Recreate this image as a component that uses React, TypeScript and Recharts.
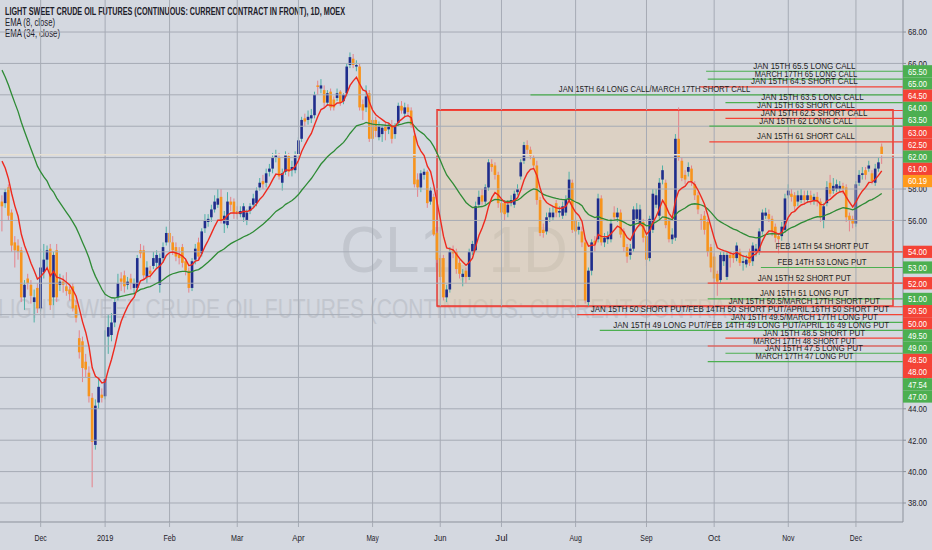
import React from 'react';
import { ComposedChart, Bar, Line, XAxis, YAxis, ReferenceLine, ReferenceArea, Scatter } from 'recharts';

type Ohlc = [number, number, number, number]; // open, high, low, close

// daily candles, one array per month
const nov18: Ohlc[] = [
  [57.2, 57.6, 55.3, 56.9], [57.1, 58.0, 56.8, 57.8], [58.1, 58.3, 56.0, 56.3], [56.5, 56.7, 54.0, 54.4],
  [54.6, 55.0, 53.0, 54.1], [54.4, 54.8, 53.5, 54.0], [54.1, 54.3, 50.8, 51.1], [51.1, 52.2, 50.3, 51.9],
  [52.3, 52.6, 51.6, 52.0], [51.9, 52.2, 50.7, 51.2], [50.8, 51.6, 49.5, 51.1], [51.7, 52.0, 50.1, 50.4],
];
const dec18: Ohlc[] = [
  [50.4, 54.2, 50.2, 53.0], [52.7, 54.5, 52.3, 53.5], [53.5, 54.4, 53.0, 54.1], [54.2, 54.5, 50.3, 50.6],
  [51.1, 54.0, 50.6, 53.8], [54.1, 54.5, 50.8, 51.1], [51.9, 52.6, 51.5, 52.1], [52.1, 52.5, 51.4, 51.9],
  [51.8, 52.7, 51.2, 51.5], [51.6, 51.8, 50.9, 51.3], [51.8, 52.0, 50.2, 50.4], [50.6, 50.9, 49.5, 49.8],
  [48.5, 49.0, 47.2, 47.6], [48.3, 48.6, 45.7, 46.6], [47.0, 47.5, 46.0, 46.5], [46.3, 46.7, 44.4, 44.8],
  [44.7, 45.0, 39.0, 41.9], [41.7, 44.6, 41.4, 44.2], [44.4, 46.0, 44.0, 45.4], [44.9, 45.3, 44.4, 44.7],
];
const jan19: Ohlc[] = [
  [44.8, 49.0, 44.6, 45.9], [48.6, 50.0, 47.5, 49.2], [48.7, 50.1, 48.3, 49.5], [49.5, 51.0, 49.2, 50.8],
  [51.1, 52.6, 50.9, 52.0], [52.3, 52.7, 51.5, 52.1], [52.5, 52.8, 51.4, 51.8], [51.9, 52.4, 51.6, 52.1],
  [52.3, 52.6, 51.6, 52.0], [51.7, 52.3, 51.3, 52.0], [51.7, 53.8, 51.5, 53.6], [54.1, 54.5, 53.6, 53.9],
  [54.1, 54.4, 52.2, 52.5], [52.4, 53.4, 52.0, 53.0], [52.8, 53.1, 52.3, 52.6], [53.1, 54.0, 52.9, 53.6],
  [53.3, 54.1, 53.0, 53.8], [51.9, 53.9, 51.4, 53.6], [53.6, 54.6, 53.3, 54.3], [54.6, 55.6, 54.4, 55.2],
];
const feb19: Ohlc[] = [
  [55.2, 55.9, 54.3, 54.6], [54.6, 55.0, 53.8, 54.1], [54.3, 54.6, 53.4, 53.7], [53.8, 54.3, 53.2, 53.6],
  [54.3, 54.5, 53.0, 53.3], [53.4, 53.6, 52.5, 52.8], [52.8, 53.0, 51.4, 51.7], [51.7, 53.6, 51.5, 53.4],
  [53.5, 54.5, 53.2, 54.2], [54.6, 54.9, 53.5, 53.7], [53.9, 55.5, 53.7, 55.3], [55.5, 56.4, 55.2, 56.0],
  [55.9, 56.4, 55.6, 56.1], [56.2, 57.0, 55.9, 56.7], [56.7, 57.6, 56.5, 57.2], [57.0, 58.0, 56.8, 57.4],
  [57.5, 58.0, 55.8, 56.0], [55.8, 56.6, 55.2, 56.3], [55.7, 57.8, 55.5, 57.2], [57.2, 57.5, 56.6, 57.0],
  [57.2, 57.4, 56.1, 56.5],
];
const mar19: Ohlc[] = [
  [56.6, 56.9, 56.1, 56.4], [56.4, 56.9, 56.2, 56.6], [56.2, 57.1, 55.9, 56.9], [56.0, 56.7, 55.7, 56.5],
  [56.6, 57.1, 56.4, 56.9], [57.0, 57.7, 56.8, 57.4], [57.1, 58.1, 56.9, 57.9], [58.1, 58.7, 57.9, 58.4],
  [58.5, 58.9, 58.0, 58.3], [58.4, 59.3, 58.1, 59.0], [59.1, 59.6, 58.8, 59.3], [59.3, 60.3, 59.0, 60.0],
  [60.0, 60.5, 59.7, 60.2], [60.0, 60.3, 58.6, 58.8], [58.4, 59.3, 57.9, 59.0], [59.1, 60.4, 58.9, 60.2],
  [60.1, 60.3, 58.8, 59.1], [59.2, 59.8, 58.8, 59.4], [59.2, 60.4, 59.0, 60.2],
];
const apr19: Ohlc[] = [
  [60.2, 61.3, 60.0, 61.1], [61.2, 62.6, 61.0, 62.4], [62.5, 62.8, 62.0, 62.3], [62.4, 63.0, 62.1, 62.6],
  [62.5, 63.1, 62.2, 62.7], [62.7, 64.2, 62.5, 64.0], [64.6, 64.9, 64.0, 64.5], [64.4, 65.0, 64.1, 64.6],
  [64.3, 64.6, 63.2, 63.5], [63.5, 64.3, 63.3, 64.1], [64.2, 64.4, 63.0, 63.2], [63.7, 63.9, 63.0, 63.2],
  [63.8, 64.4, 63.6, 64.1], [64.2, 64.3, 63.3, 63.5], [63.6, 64.1, 63.4, 64.0], [64.1, 66.0, 63.9, 65.8],
  [65.9, 66.7, 65.7, 66.4], [66.3, 66.6, 65.7, 65.9], [65.8, 66.2, 65.5, 65.9], [65.8, 66.0, 63.0, 63.2],
  [63.4, 63.7, 62.4, 63.0], [63.2, 64.6, 62.9, 63.9], [64.1, 64.3, 61.0, 61.2],
];
const may19: Ohlc[] = [
  [62.4, 62.6, 60.4, 61.2], [62.4, 62.6, 61.3, 61.7], [61.3, 62.3, 61.1, 62.0], [61.5, 62.1, 61.0, 61.9],
  [62.0, 62.2, 61.1, 61.7], [61.8, 62.2, 61.5, 62.0], [62.0, 62.4, 60.9, 61.2], [61.5, 62.2, 61.2, 62.0],
  [62.2, 63.5, 62.0, 63.3], [63.3, 63.6, 62.8, 63.0], [62.8, 63.5, 62.6, 63.2], [63.2, 63.4, 62.6, 62.9],
  [63.0, 63.2, 61.9, 62.1], [61.4, 61.7, 58.1, 58.3], [58.6, 59.0, 57.5, 58.1], [58.1, 59.2, 57.8, 59.0],
  [58.9, 59.3, 58.6, 59.1], [59.1, 59.2, 56.8, 57.1], [57.2, 58.1, 57.0, 57.9], [57.5, 57.7, 55.0, 55.1],
  [55.2, 55.3, 53.3, 53.5],
];
const jun19: Ohlc[] = [
  [53.6, 53.8, 52.2, 52.4], [53.6, 53.8, 50.9, 51.1], [51.1, 51.9, 50.8, 51.6], [51.6, 54.3, 51.4, 54.0],
  [54.1, 54.4, 53.6, 53.9], [54.0, 54.2, 52.6, 52.9], [53.3, 53.5, 52.3, 52.6], [52.4, 52.9, 51.8, 52.6],
  [52.8, 53.0, 52.0, 52.4], [52.4, 54.2, 52.2, 54.0], [54.0, 54.7, 53.8, 54.5], [54.1, 57.2, 54.0, 56.9],
  [57.0, 57.9, 56.8, 57.5], [57.6, 58.0, 57.0, 57.2], [57.2, 58.3, 57.0, 58.1], [58.1, 59.9, 57.9, 59.7],
  [59.6, 59.9, 59.1, 59.4], [59.5, 59.7, 58.6, 58.9], [58.9, 59.1, 56.8, 57.1],
];
const jul19: Ohlc[] = [
  [57.1, 57.3, 56.2, 56.5], [57.1, 57.3, 56.0, 56.4], [56.5, 57.3, 56.2, 57.0], [57.1, 57.6, 56.9, 57.3],
  [57.0, 57.9, 56.8, 57.7], [57.8, 58.3, 57.6, 58.0], [58.8, 59.9, 58.6, 59.7], [59.8, 61.0, 59.6, 60.8],
  [60.8, 61.1, 60.2, 60.5], [60.5, 60.7, 59.9, 60.1], [60.0, 60.2, 59.3, 59.5], [59.5, 59.8, 57.0, 57.3],
  [57.3, 57.5, 55.0, 55.2], [55.4, 55.8, 54.9, 55.2], [55.3, 56.5, 55.1, 56.2], [56.2, 56.8, 55.9, 56.5],
  [56.2, 56.9, 56.0, 56.5], [57.1, 57.3, 56.2, 56.5], [56.5, 56.9, 56.2, 56.6], [56.3, 57.2, 56.1, 56.9],
  [56.5, 57.6, 56.3, 57.3], [57.3, 59.1, 57.1, 58.6], [58.4, 58.6, 55.2, 55.4],
];
const aug19: Ohlc[] = [
  [56.0, 56.2, 55.0, 55.3], [55.4, 55.9, 55.1, 55.6], [55.3, 55.6, 54.3, 54.6], [54.6, 54.9, 50.7, 50.9],
  [50.8, 53.0, 50.5, 52.8], [52.8, 54.8, 52.5, 54.6], [54.7, 55.0, 54.0, 54.5], [54.8, 57.7, 54.6, 57.4],
  [57.4, 57.6, 54.4, 54.6], [54.6, 55.2, 54.3, 54.9], [54.8, 55.3, 54.5, 55.0], [54.8, 56.1, 54.6, 55.8],
  [56.5, 56.9, 56.0, 56.2], [56.2, 56.8, 55.9, 56.5], [56.5, 56.7, 54.9, 55.1], [55.3, 55.5, 54.0, 54.3],
  [54.3, 54.5, 53.3, 53.7], [53.8, 54.5, 53.5, 54.2], [54.2, 56.9, 54.0, 56.7], [56.1, 57.1, 55.9, 56.7],
  [55.8, 57.0, 55.6, 56.7], [55.9, 56.1, 54.6, 54.9],
];
const sep19: Ohlc[] = [
  [55.0, 55.2, 53.1, 53.5], [53.6, 56.3, 53.4, 56.1], [55.4, 58.0, 55.2, 57.7], [57.0, 58.0, 56.8, 57.6],
  [56.3, 58.7, 56.1, 58.4], [58.6, 59.5, 58.3, 59.2], [58.4, 58.6, 55.5, 55.7], [56.0, 56.2, 54.6, 54.8],
  [54.8, 55.5, 54.5, 55.1], [54.9, 61.5, 54.7, 61.2], [61.2, 63.2, 59.8, 60.0], [59.8, 60.0, 58.5, 58.7],
  [58.9, 59.2, 58.3, 58.6], [59.1, 59.7, 58.8, 59.4], [59.3, 59.5, 58.2, 58.5], [58.3, 58.5, 57.3, 57.6],
  [57.6, 57.8, 56.4, 56.7], [56.1, 56.4, 55.4, 56.0], [56.3, 56.6, 55.1, 55.4], [55.9, 56.1, 53.7, 54.0],
  [54.3, 54.5, 52.7, 53.0],
];
const oct19: Ohlc[] = [
  [53.7, 53.9, 52.0, 52.3], [52.6, 52.8, 51.2, 52.1], [52.2, 54.0, 52.0, 53.8], [53.4, 54.0, 53.1, 53.8],
  [52.4, 54.0, 52.2, 53.8], [53.8, 54.0, 53.0, 53.6], [53.8, 54.0, 53.3, 53.6], [53.6, 54.6, 53.4, 54.4],
  [54.0, 54.2, 53.1, 53.3], [53.3, 53.8, 52.8, 53.4], [53.2, 53.8, 53.0, 53.5], [54.0, 54.2, 53.1, 53.3],
  [53.4, 54.6, 53.1, 54.4], [54.0, 54.5, 53.7, 54.2], [54.0, 55.5, 53.8, 55.3], [55.3, 56.7, 55.1, 56.5],
  [56.3, 56.8, 56.1, 56.5], [56.4, 56.7, 55.9, 56.1], [56.1, 56.3, 55.0, 55.3], [55.6, 55.8, 54.6, 54.9],
  [55.0, 55.2, 53.9, 54.8], [55.0, 55.9, 54.7, 55.6], [55.4, 57.7, 55.2, 57.4],
];
const nov19: Ohlc[] = [
  [57.6, 58.3, 57.4, 57.9], [57.7, 58.0, 57.2, 57.5], [57.6, 57.8, 56.6, 56.9], [57.2, 57.9, 56.9, 57.6],
  [57.3, 58.0, 57.1, 57.6], [57.6, 57.9, 57.0, 57.3], [57.3, 57.9, 57.1, 57.6], [57.6, 57.9, 57.0, 57.3],
  [57.3, 57.7, 57.0, 57.5], [57.5, 57.8, 56.9, 57.2], [57.2, 57.4, 55.9, 56.2], [56.0, 57.1, 55.5, 56.9],
  [57.1, 58.5, 56.9, 58.1], [58.4, 58.9, 57.5, 57.7], [57.9, 58.7, 57.7, 58.2], [58.0, 58.6, 57.8, 58.3],
  [58.0, 58.5, 57.8, 58.2], [58.2, 58.4, 57.7, 58.0], [58.1, 58.3, 55.9, 56.2], [56.3, 56.5, 55.3, 56.0],
  [56.1, 56.3, 55.5, 55.8],
];
const dec19: Ohlc[] = [
  [55.8, 58.5, 55.6, 58.3], [58.4, 59.2, 58.2, 58.9], [58.9, 59.4, 58.6, 59.0], [59.2, 59.4, 58.6, 58.9],
  [59.3, 59.8, 59.1, 59.5], [59.0, 59.2, 58.3, 58.5], [58.4, 59.6, 58.2, 59.3], [59.3, 60.0, 59.1, 59.7],
  [60.7, 60.9, 59.6, 60.19],
];

const monthBars = [nov18, dec18, jan19, feb19, mar19, apr19, may19, jun19, jul19, aug19, sep19, oct19, nov19, dec19];
const monthLabels = ['Nov', 'Dec', '2019', 'Feb', 'Mar', 'Apr', 'May', 'Jun', 'Jul', 'Aug', 'Sep', 'Oct', 'Nov', 'Dec'];

// EMA state before the first visible bar
const ema8Seed = 60.6;
const ema34Seed = 66.1;

// option levels drawn on the chart
const optPrices = [65.5, 65, 64.5, 64, 63.5, 63, 62.5, 62, 61, 54, 53, 52, 51, 50.5, 50, 49.5, 49, 48.5, 48, 47.54, 47];
const optLong = [true, true, false, true, true, false, false, true, false, false, true, false, true, false, false, true, true, false, false, true, true];
const optLabels = [
  'JAN 15TH 65.5 LONG CALL',
  'MARCH 17TH 65 LONG CALL',
  'JAN 15TH 64.5 SHORT CALL',
  'JAN 15TH 64 LONG CALL/MARCH 17TH SHORT CALL',
  'JAN 15TH 63.5 LONG CALL',
  'JAN 15TH 63 SHORT CALL',
  'JAN 15TH 62.5 SHORT CALL',
  'JAN 15TH 62 LONG CALL',
  'JAN 15TH 61 SHORT CALL',
  'FEB 14TH 54 SHORT PUT',
  'FEB 14TH 53 LONG PUT',
  'JAN 15TH 52 SHORT PUT',
  'JAN 15TH 51 LONG PUT',
  'JAN 15TH 50.5/MARCH 17TH SHORT PUT',
  'JAN 15TH 50 SHORT PUT/FEB 14TH 50 SHORT PUT/APRIL 16TH 50 SHORT PUT',
  'JAN 15TH 49.5/MARCH 17TH LONG PUT',
  'JAN 15TH 49 LONG PUT/FEB 14TH 49 LONG PUT/APRIL 16 49 LONG PUT',
  'JAN 15TH 48.5 SHORT PUT',
  'MARCH 17TH 48 SHORT PUT',
  'JAN 15TH 47.5 LONG PUT',
  'MARCH 17TH 47 LONG PUT',
];
// bar index where each level starts, and where its label is centred
const optFrom = [218.5, 219, 216.5, 164, 224.5, 135, 224.5, 219.5, 219.5, 232, 235.5, 219, 219, 135, 178.5, 225, 185.5, 224.5, 219, 224.5, 219];
const optLabelAt = [249, 249.5, 249, 202.5, 251.5, 249.5, 252, 249.5, 249.5, 254.5, 254.5, 249, 249, 249, 229, 249, 232.5, 252, 249, 252, 249];

// range box (bar index / price)
const boxFrom = 135;
const boxTo = 276.5;
const boxLow = 50.55;
const boxHigh = 63.05;

const gridPrices = [38, 40, 42, 44, 46, 48, 50, 52, 54, 56, 58, 60, 62, 64, 66, 68];

const W = 932;
const H = 550;
const AXIS_W = 29;
const XAXIS_H = 28;
const PLOT_W = W - AXIS_W;
const PLOT_H = H - XAXIS_H;
const Y_MIN = 36.79;
const Y_MAX = 70.04;
const X_MIN = -0.62;
const X_MAX = 279.6;

const BG = '#d4d8e0';
const GRID = '#a6abb5';
const AXIS = '#8c919b';
const TXT = '#1d2029';
const UP = '#1f2d8c';
const UP_WICK = '#4fb0a6';
const DOWN = '#f7941d';
const DOWN_WICK = '#e5828a';
const GREEN = '#4caf50';
const RED = '#f44336';
const ORANGE = '#ff9a1c';
const FONT = '"Liberation Sans", Arial, sans-serif';

const bars = monthBars.flat();
const emaOf = (period: number, seed: number) => {
  const k = 2 / (period + 1);
  let prev = seed;
  return bars.map((b) => (prev = b[3] * k + prev * (1 - k)));
};
const ema8 = emaOf(8, ema8Seed);
const ema34 = emaOf(34, ema34Seed);

const data = bars.map((b, i) => ({
  i,
  open: b[0],
  high: b[1],
  low: b[2],
  close: b[3],
  range: [b[2], b[1]],
  ema8: ema8[i],
  ema34: ema34[i],
}));
const lastClose = bars[bars.length - 1][3];

const monthTicks: number[] = [];
const tickLabel = new Map<number, string>();
monthBars.reduce((start, m, k) => {
  if (k > 0) {
    monthTicks.push(start);
    tickLabel.set(start, monthLabels[k]);
  }
  return start + m.length;
}, 0);

const labelPoints = optLabels.map((text, k) => ({ i: optLabelAt[k], price: optPrices[k], text }));

// price badges on the right axis, pushed apart so they do not overlap
const badges = [
  ...optPrices.map((price, k) => ({ price, color: optLong[k] ? GREEN : RED })),
  { price: lastClose, color: ORANGE },
].sort((a, b) => b.price - a.price);
const ppu = PLOT_H / (Y_MAX - Y_MIN);
const badgeShift = new Map<number, { dy: number; color: string }>();
let prevY = -Infinity;
for (const b of badges) {
  const ty = (Y_MAX - b.price) * ppu;
  const y = Math.max(ty, prevY + 12.2);
  badgeShift.set(b.price, { dy: y - ty, color: b.color });
  prevY = y;
}
const yTicks = [...gridPrices.filter((p) => !badgeShift.has(p)), ...badges.map((b) => b.price)];

const Candle = (props: any) => {
  const { x, y, width, height, payload } = props;
  if (!payload || height == null) return null;
  const { open, close, high, low } = payload;
  const cx = x + width / 2;
  const span = high - low || 1;
  const py = (p: number) => y + ((high - p) / span) * height;
  const up = close >= open;
  const top = py(Math.max(open, close));
  const bot = py(Math.min(open, close));
  return (
    <g>
      <line x1={cx} x2={cx} y1={y} y2={y + height} stroke={up ? UP_WICK : DOWN_WICK} strokeWidth={1} />
      <rect x={cx - 1.3} y={top} width={2.6} height={Math.max(1, bot - top)} fill={up ? UP : DOWN} />
    </g>
  );
};

const LevelLabel = (props: any) => {
  const { cx, cy, payload } = props;
  if (cx == null || !payload) return null;
  return (
    <text
      x={cx}
      y={cy - 2.5}
      textAnchor="middle"
      fontSize={9.5}
      fontFamily={FONT}
      fill="#1e1e1e"
      textLength={payload.text.length * 4.45}
      lengthAdjust="spacingAndGlyphs"
    >
      {payload.text}
    </text>
  );
};

const YTick = (props: any) => {
  const { y, payload } = props;
  const v = payload.value as number;
  const b = badgeShift.get(v);
  if (b) {
    const cy = y + b.dy;
    return (
      <g>
        <rect x={PLOT_W} y={cy - 6.1} width={AXIS_W} height={12.2} fill={b.color} />
        <text x={PLOT_W + 5} y={cy + 3.3} fill="#fff" fontSize={9.5} fontFamily={FONT} textLength={19} lengthAdjust="spacingAndGlyphs">
          {v.toFixed(2)}
        </text>
      </g>
    );
  }
  return (
    <g>
      <line x1={PLOT_W} x2={PLOT_W + 3} y1={y} y2={y} stroke={AXIS} />
      <text x={PLOT_W + 5} y={y + 3.3} fill={TXT} fontSize={9.5} fontFamily={FONT} textLength={19} lengthAdjust="spacingAndGlyphs">
        {v.toFixed(2)}
      </text>
    </g>
  );
};

const XTick = (props: any) => {
  const { x, payload } = props;
  const label = tickLabel.get(payload.value) ?? '';
  return (
    <text x={x} y={541} textAnchor="middle" fill={TXT} fontSize={9.5} fontFamily={FONT} textLength={label.length * 4.1} lengthAdjust="spacingAndGlyphs">
      {label}
    </text>
  );
};

export default function App() {
  return (
    <div style={{ position: 'absolute', left: 0, top: 0, width: W, height: H, background: BG, overflow: 'hidden' }}>
      <svg width={W} height={H} style={{ position: 'absolute', left: 0, top: 0 }}>
        <text x={-2} y={318} fontSize={27} fontFamily={FONT} fill="#c2c6ce" textLength={868} lengthAdjust="spacingAndGlyphs">
          LIGHT SWEET CRUDE OIL FUTURES (CONTINUOUS: CURRENT CONTRACT IN FRONT)
        </text>
        <text x={340} y={272} fontSize={64} fontFamily={FONT} fill="#c2c6ce" textLength={228} lengthAdjust="spacingAndGlyphs">
          CL1, 1D
        </text>
        <text x={5} y={15} fontSize={10} fontWeight="bold" fontFamily={FONT} fill={TXT} textLength={340} lengthAdjust="spacingAndGlyphs">
          LIGHT SWEET CRUDE OIL FUTURES (CONTINUOUS: CURRENT CONTRACT IN FRONT), 1D, MOEX
        </text>
        <text x={5} y={26} fontSize={10} fontFamily={FONT} fill={TXT} textLength={50} lengthAdjust="spacingAndGlyphs">
          EMA (8, close)
        </text>
        <text x={5} y={37} fontSize={10} fontFamily={FONT} fill={TXT} textLength={55} lengthAdjust="spacingAndGlyphs">
          EMA (34, close)
        </text>
      </svg>
      <div style={{ position: 'absolute', left: 0, top: 0 }}>
        <ComposedChart width={W} height={H} data={data} margin={{ top: 0, right: 0, bottom: 0, left: 0 }}>
          <XAxis
            type="number"
            dataKey="i"
            domain={[X_MIN, X_MAX]}
            allowDataOverflow
            ticks={monthTicks}
            interval={0}
            height={XAXIS_H}
            axisLine={{ stroke: AXIS }}
            tickLine={{ stroke: GRID }}
            tickSize={5}
            tick={(p: any) => <XTick {...p} />}
          />
          <YAxis
            orientation="right"
            type="number"
            domain={[Y_MIN, Y_MAX]}
            allowDataOverflow
            ticks={yTicks}
            interval={0}
            width={AXIS_W}
            axisLine={{ stroke: AXIS }}
            tickLine={false}
            tick={(p: any) => <YTick {...p} />}
          />
          {gridPrices.map((p) => (
            <ReferenceLine key={`gy${p}`} y={p} stroke={GRID} strokeWidth={1} />
          ))}
          {monthTicks.map((t) => (
            <ReferenceLine key={`gx${t}`} x={t} stroke={GRID} strokeWidth={1} />
          ))}
          <ReferenceArea
            x1={boxFrom}
            x2={boxTo}
            y1={boxLow}
            y2={boxHigh}
            stroke="#e53935"
            strokeWidth={1.5}
            fill="#e8c99c"
            fillOpacity={0.4}
          />
          <ReferenceLine y={lastClose} stroke="#e6e0d4" strokeWidth={1.5} />
          <Bar dataKey="range" barSize={3} shape={(p: any) => <Candle {...p} />} activeBar={false} isAnimationActive={false} />
          <Line type="linear" dataKey="ema34" stroke="#2e8b35" strokeWidth={1.3} dot={false} activeDot={false} isAnimationActive={false} />
          <Line type="linear" dataKey="ema8" stroke="#ee2a1f" strokeWidth={1.4} dot={false} activeDot={false} isAnimationActive={false} />
          {optPrices.map((p, k) => (
            <ReferenceLine
              key={`opt${k}`}
              segment={[
                { x: optFrom[k], y: p },
                { x: X_MAX, y: p },
              ]}
              stroke={optLong[k] ? GREEN : RED}
              strokeWidth={1.2}
            />
          ))}
          <Scatter data={labelPoints} dataKey="price" shape={(p: any) => <LevelLabel {...p} />} isAnimationActive={false} />
        </ComposedChart>
      </div>
    </div>
  );
}
